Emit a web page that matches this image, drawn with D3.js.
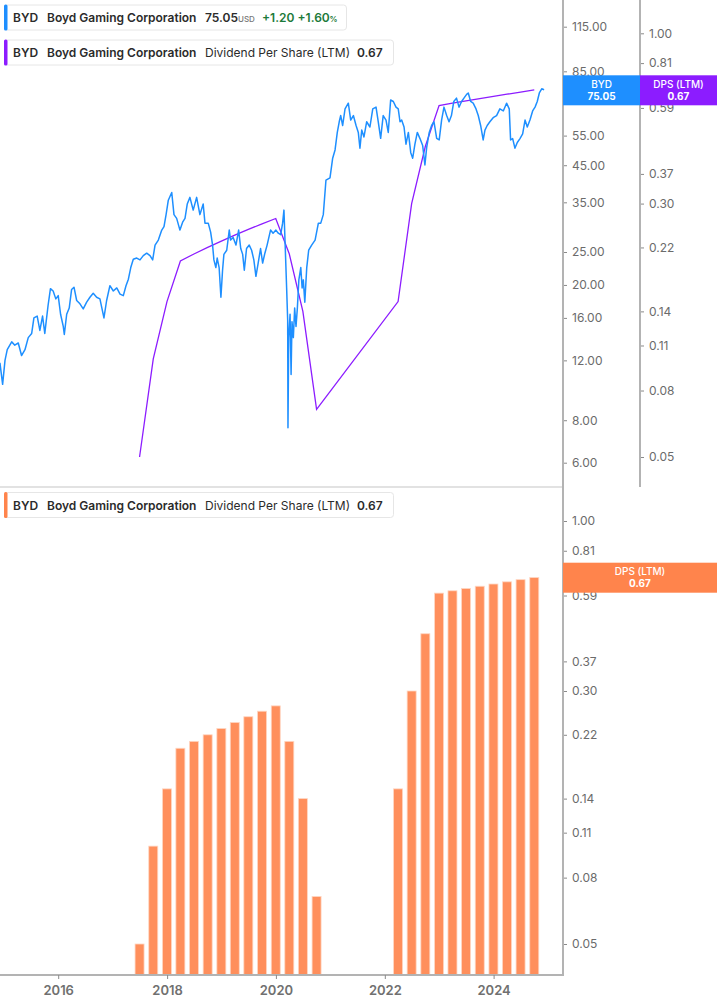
<!DOCTYPE html>
<html>
<head>
<meta charset="utf-8">
<script src="https://cdn.jsdelivr.net/npm/d3@7"></script>
<style>
  html, body { margin: 0; padding: 0; background: #fff; }
  body { width: 717px; height: 1005px; overflow: hidden; font-family: Inter, "Noto Sans", sans-serif; }
  svg text { font-family: Inter, "Noto Sans", sans-serif; }
</style>
</head>
<body>
<div id="chart"></div>
<script>
// BYD share price (close, USD)
const priceDates = [
  '2014-12-06','2014-12-24','2015-01-09','2015-01-24','2015-02-23','2015-03-16','2015-04-08','2015-04-30',
  '2015-05-23','2015-06-14','2015-07-07','2015-07-22','2015-08-13','2015-08-31','2015-09-18','2015-10-03',
  '2015-10-25','2015-11-10','2015-11-28','2015-12-16','2016-01-01','2016-01-17','2016-02-04','2016-02-11',
  '2016-02-27','2016-03-15','2016-03-31','2016-04-16','2016-05-04','2016-05-26','2016-06-17','2016-07-10',
  '2016-08-01','2016-08-23','2016-09-15','2016-10-07','2016-11-03','2016-11-21','2016-12-13','2017-01-05',
  '2017-01-28','2017-02-19','2017-03-13','2017-03-31','2017-04-16','2017-05-02','2017-05-19','2017-06-11',
  '2017-07-03','2017-07-25','2017-08-17','2017-09-08','2017-09-26','2017-10-12','2017-11-03','2017-11-26',
  '2017-12-11','2017-12-25','2018-01-09','2018-02-01','2018-02-16','2018-03-06','2018-03-28','2018-04-15',
  '2018-05-01','2018-05-16','2018-06-03','2018-06-25','2018-07-18','2018-08-09','2018-08-31','2018-09-12',
  '2018-10-04','2018-10-20','2018-11-02','2018-11-11','2018-11-24','2018-12-03','2018-12-16','2018-12-28',
  '2019-01-08','2019-01-17','2019-02-05','2019-02-22','2019-03-03','2019-03-20','2019-04-08','2019-04-26',
  '2019-05-10','2019-05-23','2019-06-03','2019-06-18','2019-07-06','2019-07-22','2019-08-06','2019-08-20',
  '2019-09-04','2019-09-20','2019-10-04','2019-10-19','2019-11-03','2019-11-26','2019-12-13','2020-01-01',
  '2020-01-17','2020-02-02','2020-02-15','2020-02-24','2020-03-04','2020-03-13','2020-03-20','2020-03-22',
  '2020-03-27','2020-04-05','2020-04-12','2020-04-18','2020-04-27','2020-05-06','2020-05-15','2020-05-24',
  '2020-06-03','2020-06-16','2020-06-25','2020-07-03','2020-07-13','2020-07-26','2020-08-08','2020-08-28',
  '2020-09-20','2020-10-12','2020-10-28','2020-11-14','2020-12-02','2020-12-29','2021-01-16','2021-02-01',
  '2021-02-16','2021-03-01','2021-03-11','2021-03-24','2021-04-09','2021-05-01','2021-05-17','2021-06-04',
  '2021-06-22','2021-07-07','2021-07-18','2021-07-30','2021-08-14','2021-09-01','2021-09-23','2021-10-12',
  '2021-11-03','2021-11-18','2021-12-04','2021-12-21','2022-01-09','2022-01-24','2022-02-09','2022-02-27',
  '2022-03-17','2022-04-01','2022-04-13','2022-04-24','2022-05-10','2022-05-23','2022-06-08','2022-06-24',
  '2022-07-07','2022-07-22','2022-08-07','2022-08-25','2022-09-12','2022-09-27','2022-10-09','2022-10-26',
  '2022-11-11','2022-11-27','2022-12-15','2023-01-01','2023-01-17','2023-02-02','2023-02-20','2023-03-08',
  '2023-03-24','2023-04-09','2023-04-27','2023-05-14','2023-05-31','2023-06-16','2023-07-04','2023-07-15',
  '2023-07-31','2023-08-17','2023-09-05','2023-09-20','2023-10-06','2023-10-23','2023-11-04','2023-11-19',
  '2023-12-07','2023-12-29','2024-01-21','2024-02-12','2024-03-06','2024-03-28','2024-04-15','2024-04-24',
  '2024-05-08','2024-05-23','2024-06-08','2024-06-26','2024-07-14','2024-07-30','2024-08-14','2024-09-01',
  '2024-09-19','2024-10-05','2024-10-20','2024-11-03','2024-11-19','2024-12-05'
];
const priceValues = [
  11.8, 10.2, 12.0, 12.9, 13.6, 13.3, 13.5, 12.4,
  12.9, 14.0, 14.4, 16.0, 16.2, 14.7, 16.2, 14.4,
  17.4, 19.5, 19.2, 18.2, 18.6, 16.4, 15.1, 14.3,
  16.4, 17.1, 19.4, 19.7, 18.0, 17.6, 17.0, 17.8,
  18.4, 18.9, 18.4, 18.2, 16.0, 18.0, 19.9, 19.2,
  19.6, 18.8, 18.6, 19.9, 20.8, 22.5, 23.8, 24.0,
  23.7, 24.4, 24.8, 24.4, 23.7, 26.2, 27.1, 29.0,
  29.7, 32.2, 35.5, 37.4, 32.2, 31.4, 29.0, 30.6,
  31.4, 34.6, 36.2, 33.2, 36.2, 32.2, 34.6, 30.4,
  30.4, 28.6, 26.2, 23.7, 22.5, 24.0, 22.5, 18.4,
  22.1, 24.6, 25.3, 29.0, 27.1, 27.6, 26.2, 29.0,
  25.6, 24.6, 22.1, 25.6, 26.2, 25.3, 23.7, 21.2,
  23.2, 25.6, 23.2, 24.8, 26.2, 29.0, 28.4, 29.0,
  28.4, 28.1, 30.4, 33.2, 25.6, 19.6, 15.8, 7.6,
  14.0, 16.4, 10.9, 15.6, 14.0, 17.1, 15.1, 17.1,
  20.7, 22.5, 19.6, 20.7, 17.8, 22.5, 25.3, 26.2,
  27.1, 30.4, 30.4, 32.2, 40.7, 41.3, 47.2, 49.9,
  56.2, 60.4, 63.0, 58.9, 65.9, 68.5, 61.1, 63.0,
  58.9, 56.2, 50.5, 57.1, 54.5, 60.4, 58.3, 65.9,
  66.7, 60.4, 54.0, 63.0, 61.1, 56.2, 70.0, 69.3,
  66.7, 65.9, 60.4, 61.1, 58.3, 51.9, 56.2, 49.0,
  47.2, 51.9, 56.2, 53.9, 51.4, 45.1, 50.8, 56.2,
  58.9, 60.4, 54.0, 53.4, 61.1, 66.7, 63.0, 60.4,
  63.0, 69.3, 70.9, 66.7, 69.3, 70.9, 72.7, 73.4,
  69.3, 68.5, 65.9, 63.0, 58.9, 53.4, 57.1, 58.9,
  60.4, 62.1, 63.0, 65.9, 65.0, 68.5, 65.9, 53.4,
  53.9, 50.5, 52.5, 53.9, 55.6, 61.1, 58.3, 61.1,
  65.0, 66.7, 69.3, 73.4, 75.5, 75.05
];

// Dividend per share (LTM), quarterly
const dpsDates = [
  '2017-06-30','2017-09-30','2017-12-31','2018-03-31','2018-06-30','2018-09-30','2018-12-31',
  '2019-03-31','2019-06-30','2019-09-30','2019-12-31','2020-03-31','2020-06-30','2020-09-30',
  '2022-03-31','2022-06-30','2022-09-30','2022-12-31','2023-03-31','2023-06-30','2023-09-30',
  '2023-12-31','2024-03-31','2024-06-30','2024-09-30'
];
const dpsValues = [
  0.05, 0.10, 0.15, 0.20, 0.21, 0.22, 0.23,
  0.24, 0.25, 0.26, 0.27, 0.21, 0.14, 0.07,
  0.15, 0.30, 0.45, 0.60, 0.61, 0.62, 0.63,
  0.64, 0.65, 0.66, 0.67
];

const priceTicks = [6, 8, 12, 16, 20, 25, 35, 45, 55, 85, 115];
const dpsTicks = [0.05, 0.08, 0.11, 0.14, 0.22, 0.30, 0.37, 0.59, 0.81, 1.00];

const lastPrice = 75.05;
const lastDps = 0.67;

const BLUE = '#1e8fff';
const PURPLE = '#8c1cff';
const ORANGE = '#ff8f5c';
const ORANGE_TAG = '#ff844c';
const AXIS = '#b3b3b3';
const TICK_TEXT = '#6b6b6b';

const width = 717;
const height = 1005;
const plotRight = 563;
const dpsAxisX = 640;
const topBottom = 487;
const botBottom = 975;

const parse = d3.timeParse('%Y-%m-%d');
const prices = priceDates.map((d, i) => ({ date: parse(d), value: priceValues[i] }));
const dps = dpsDates.map((d, i) => ({ date: parse(d), value: dpsValues[i] }));

const x = d3.scaleTime()
  .domain([new Date(2016, 0, 1), new Date(2024, 0, 1)])
  .range([58.2, 493.6]);
const yPrice = d3.scaleLog().domain([6, 115]).range([462.7, 26.7]);
const yDpsTop = d3.scaleLog().domain([0.05, 1]).range([457, 33.3]);
const yDpsBot = d3.scaleLog().domain([0.05, 1]).range([944, 521]);

const svg = d3.select('#chart').append('svg')
  .attr('width', width)
  .attr('height', height);

svg.append('defs').append('clipPath').attr('id', 'clipTop')
  .append('rect').attr('x', 0).attr('y', 0).attr('width', plotRight).attr('height', topBottom);

// --- top panel: price + DPS line
const topPanel = svg.append('g').attr('clip-path', 'url(#clipTop)');

topPanel.append('path')
  .datum(dps)
  .attr('fill', 'none')
  .attr('stroke', PURPLE)
  .attr('stroke-width', 1.3)
  .attr('d', d3.line().x(d => x(d.date)).y(d => yDpsTop(d.value)));

topPanel.append('path')
  .datum(prices)
  .attr('fill', 'none')
  .attr('stroke', BLUE)
  .attr('stroke-width', 1.5)
  .attr('stroke-linejoin', 'round')
  .attr('d', d3.line().x(d => x(d.date)).y(d => yPrice(d.value)));

// --- bottom panel: DPS bars
svg.append('g')
  .selectAll('rect')
  .data(dps)
  .enter()
  .append('rect')
  .attr('x', d => x(d.date) - 4.5)
  .attr('width', 9)
  .attr('y', d => yDpsBot(d.value))
  .attr('height', d => botBottom - yDpsBot(d.value))
  .attr('fill', ORANGE)
  .attr('stroke', '#ffd6c2')
  .attr('stroke-width', 0.8);

// --- frame lines
svg.append('line') // panel divider
  .attr('x1', 0).attr('x2', plotRight).attr('y1', topBottom).attr('y2', topBottom)
  .attr('stroke', '#e2e2e2').attr('stroke-width', 2);
svg.append('line')
  .attr('x1', plotRight).attr('x2', plotRight).attr('y1', 0).attr('y2', botBottom)
  .attr('stroke', AXIS).attr('stroke-width', 2);
svg.append('line')
  .attr('x1', dpsAxisX).attr('x2', dpsAxisX).attr('y1', 0).attr('y2', topBottom)
  .attr('stroke', AXIS).attr('stroke-width', 2);
svg.append('line')
  .attr('x1', 0).attr('x2', plotRight + 1).attr('y1', botBottom).attr('y2', botBottom)
  .attr('stroke', AXIS).attr('stroke-width', 2);

function styleAxis(g) {
  g.select('.domain').remove();
  g.selectAll('.tick line').attr('stroke', '#8a8a8a');
  g.selectAll('.tick text')
    .attr('fill', TICK_TEXT)
    .style('font-size', '12px')
    .style('font-family', 'Inter, "Noto Sans", sans-serif');
}

svg.append('g')
  .attr('transform', `translate(${plotRight + 1},0)`)
  .call(d3.axisRight(yPrice).tickValues(priceTicks).tickFormat(d3.format('.2f')).tickSize(3).tickPadding(5))
  .call(styleAxis);

svg.append('g')
  .attr('transform', `translate(${dpsAxisX + 1},0)`)
  .call(d3.axisRight(yDpsTop).tickValues(dpsTicks).tickFormat(d3.format('.2f')).tickSize(3).tickPadding(5))
  .call(styleAxis);

svg.append('g')
  .attr('transform', `translate(${plotRight + 1},0)`)
  .call(d3.axisRight(yDpsBot).tickValues(dpsTicks).tickFormat(d3.format('.2f')).tickSize(3).tickPadding(5))
  .call(styleAxis);

svg.append('g')
  .attr('transform', `translate(0,${botBottom})`)
  .call(d3.axisBottom(x).ticks(d3.timeYear.every(2)).tickFormat(d3.timeFormat('%Y')).tickSize(4).tickPadding(7))
  .call(styleAxis)
  .call(g => g.selectAll('.tick text').style('font-size', '13px').style('font-weight', 600).attr('fill', '#707070'));

// --- value tags on the axes
function tag(x0, w, yc, fill, line1, line2) {
  const g = svg.append('g');
  g.append('rect').attr('x', x0).attr('y', yc - 15).attr('width', w).attr('height', 30).attr('fill', fill);
  const cx = x0 + w / 2;
  g.append('text').attr('x', cx).attr('y', yc - 2.6)
    .attr('text-anchor', 'middle').attr('fill', '#fff')
    .style('font-size', '10px').style('font-weight', 500).text(line1);
  g.append('text').attr('x', cx).attr('y', yc + 9.7)
    .attr('text-anchor', 'middle').attr('fill', '#fff')
    .style('font-size', '10px').style('font-weight', 700).text(line2);
}
tag(plotRight, dpsAxisX - plotRight, 90.3, BLUE, 'BYD', lastPrice.toFixed(2));
tag(dpsAxisX, width - dpsAxisX, 90.3, PURPLE, 'DPS (LTM)', lastDps.toFixed(2));
tag(plotRight, width - plotRight, 577.7, ORANGE_TAG, 'DPS (LTM)', lastDps.toFixed(2));

// --- legends
function legendBox(y0, w, color, parts) {
  const g = svg.append('g');
  g.append('rect').attr('x', 4.5).attr('y', y0 + 0.5).attr('width', w).attr('height', 25)
    .attr('rx', 3).attr('fill', '#fff').attr('stroke', '#e6e6e6');
  g.append('rect').attr('x', 4).attr('y', y0).attr('width', 3.5).attr('height', 26)
    .attr('rx', 1.5).attr('fill', color);
  const t = g.append('text').attr('y', y0 + 17.5).style('font-size', '12px');
  parts.forEach(p => {
    t.append('tspan')
      .attr('x', p.x)
      .attr('fill', p.color || '#2b2b2b')
      .style('font-weight', p.weight || 600)
      .style('font-size', p.size || '12px')
      .text(p.text);
  });
}

legendBox(4.5, 342, BLUE, [
  { x: 13, text: 'BYD' },
  { x: 47, text: 'Boyd Gaming Corporation' },
  { x: 205, text: lastPrice.toFixed(2) },
  { x: 238, text: 'USD', size: '8px', weight: 500, color: '#777' },
  { x: 262, text: '+1.20', color: '#1d7a3a' },
  { x: 297.5, text: '+1.60', color: '#1d7a3a' },
  { x: 329.5, text: '%', size: '8px', color: '#1d7a3a' }
]);

legendBox(39.5, 389, PURPLE, [
  { x: 13, text: 'BYD' },
  { x: 47, text: 'Boyd Gaming Corporation' },
  { x: 205, text: 'Dividend Per Share (LTM)', weight: 400 },
  { x: 357, text: lastDps.toFixed(2) }
]);

legendBox(492, 389, ORANGE_TAG, [
  { x: 13, text: 'BYD' },
  { x: 47, text: 'Boyd Gaming Corporation' },
  { x: 205, text: 'Dividend Per Share (LTM)', weight: 400 },
  { x: 357, text: lastDps.toFixed(2) }
]);
</script>
</body>
</html>
